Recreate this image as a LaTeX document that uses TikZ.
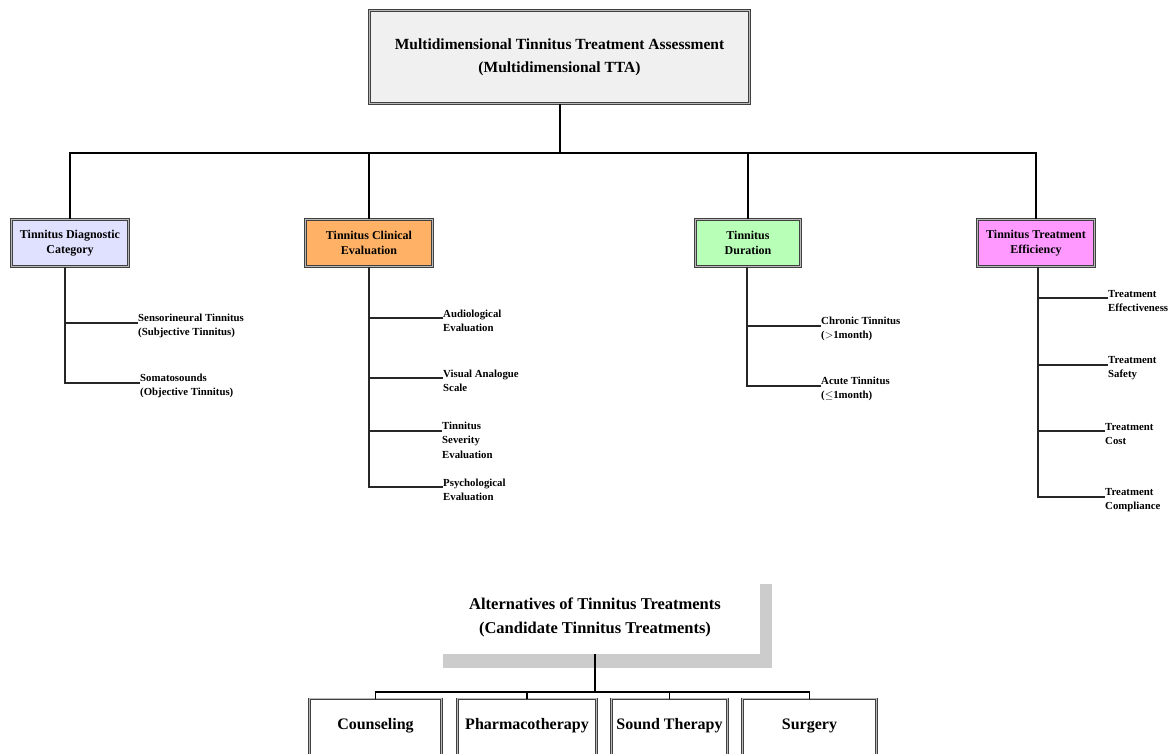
\documentclass[tikz,border=0pt]{standalone}
\usepackage{fontspec}
\setmainfont{Liberation Serif}
\usetikzlibrary{positioning}
\definecolor{topcol}{HTML}{F0F0F0}
\definecolor{diagcol}{HTML}{E0E0FF}
\definecolor{clincol}{HTML}{FFB266}
\definecolor{durcol}{HTML}{B8FFB8}
\definecolor{effcol}{HTML}{FF99FF}

\begin{document}
\begin{tikzpicture}[
	x=1pt, y=-1pt,
	dbox/.style={draw=black!75, double=gray!55, double distance=1.2pt, line width=0.7pt, align=center, inner sep=2pt},
	catbox/.style={dbox, minimum height=47pt, font=\bfseries\fontsize{12}{15.5}\selectfont},
	leaf/.style={anchor=west, inner sep=0pt, align=left, font=\bfseries\fontsize{10.8}{14.5}\selectfont},
	altbox/.style={dbox, fill=white, anchor=north, inner sep=0pt, text height=31pt, text depth=40pt, font=\bfseries\fontsize{16}{18}\selectfont},
	trunk/.style={draw, line width=1.4pt},
	twig/.style={draw=black!85, line width=1.1pt}
	]
	\useasboundingbox (0,0) rectangle (1171,753);
	\clip (0,0) rectangle (1171,753);

	% La racine
	\node[dbox, fill=topcol, minimum width=380pt, minimum height=93pt, font=\bfseries\fontsize{15.5}{23}\selectfont] (top) at (559.5,57) {Multidimensional Tinnitus Treatment Assessment\\(Multidimensional TTA)};

	% Les criteres
	\node[catbox, fill=diagcol, minimum width=117pt] (diag) at (70,243) {Tinnitus Diagnostic\\Category};
	\node[catbox, fill=clincol, minimum width=127pt] (clin) at (369,243) {Tinnitus Clinical\\Evaluation};
	\node[catbox, fill=durcol, minimum width=105pt] (dur) at (748,243) {Tinnitus\\Duration};
	\node[catbox, fill=effcol, minimum width=117pt] (eff) at (1036,243) {Tinnitus Treatment\\Efficiency};

	\coordinate (hub) at (560,153);
	\draw[trunk] (hub) -- (hub |- top.south);
	\draw[trunk] (diag.north) |- (hub);
	\draw[trunk] (clin.north) |- (hub);
	\draw[trunk] (dur.north) |- (hub);
	\draw[trunk] (eff.north) |- (hub);

	% Les sous-criteres
	\node[leaf] (diag1) at (138,326) {Sensorineural Tinnitus\\(Subjective Tinnitus)};
	\node[leaf] (diag2) at (140,386) {Somatosounds\\(Objective Tinnitus)};
	\node[leaf] (clin1) at (443,321) {Audiological\\Evaluation};
	\node[leaf] (clin2) at (443,381) {Visual Analogue\\Scale};
	\node[leaf] (clin3) at (442,440) {Tinnitus\\Severity\\Evaluation};
	\node[leaf] (clin4) at (443,490) {Psychological\\Evaluation};
	\node[leaf] (dur1) at (821,329) {Chronic Tinnitus\\($>$1month)};
	\node[leaf] (dur2) at (821,389) {Acute Tinnitus\\($\leq$1month)};
	\node[leaf] (eff1) at (1108,301) {Treatment\\Effectiveness};
	\node[leaf] (eff2) at (1108,368) {Treatment\\Safety};
	\node[leaf] (eff3) at (1105,434) {Treatment\\Cost};
	\node[leaf] (eff4) at (1105,500) {Treatment\\Compliance};

	% Les points d'attache
	\coordinate (sd) at ([xshift=-5pt]diag.south);
	\coordinate (su) at ([xshift=-1pt]dur.south);
	\coordinate (se) at ([xshift=2pt]eff.south);
	\coordinate (d1) at ([yshift=3pt]diag1.west);
	\coordinate (d2) at ([yshift=3pt]diag2.west);
	\coordinate (c1) at ([yshift=3pt]clin1.west);
	\coordinate (c2) at ([yshift=3pt]clin2.west);
	\coordinate (c3) at ([yshift=9pt]clin3.west);
	\coordinate (c4) at ([yshift=3pt]clin4.west);
	\coordinate (u1) at ([yshift=3pt]dur1.west);
	\coordinate (u2) at ([yshift=3pt]dur2.west);
	\coordinate (e1) at ([yshift=3pt]eff1.west);
	\coordinate (e2) at ([yshift=3pt]eff2.west);
	\coordinate (e3) at ([yshift=3pt]eff3.west);
	\coordinate (e4) at ([yshift=3pt]eff4.west);

	\draw[twig] (sd) |- (d2);
	\draw[twig] (sd |- d1) -- (d1);
	\draw[twig] (clin.south) |- (c4);
	\draw[twig] (clin.south |- c1) -- (c1);
	\draw[twig] (clin.south |- c2) -- (c2);
	\draw[twig] (clin.south |- c3) -- (c3);
	\draw[twig] (su) |- (u2);
	\draw[twig] (su |- u1) -- (u1);
	\draw[twig] (se) |- (e4);
	\draw[twig] (se |- e1) -- (e1);
	\draw[twig] (se |- e2) -- (e2);
	\draw[twig] (se |- e3) -- (e3);

	% Les alternatives
	\fill[gray!40] (443,584) rectangle (772,668);
	\node[fill=white, minimum width=330pt, minimum height=74pt, align=center, font=\bfseries\fontsize{16.5}{24}\selectfont] (alt) at (595,617) {Alternatives of Tinnitus Treatments\\(Candidate Tinnitus Treatments)};

	\node[altbox, minimum width=132pt] (cons) at (375.5,698.5) {Counseling};
	\node[altbox, minimum width=139pt] (pharm) at (527,698.5) {Pharmacotherapy};
	\node[altbox, minimum width=116pt] (sound) at (669.5,698.5) {Sound Therapy};
	\node[altbox, minimum width=134pt] (surg) at (809.5,698.5) {Surgery};

	\coordinate (althub) at (595,692);
	\draw[trunk] (alt.south) -- (althub);
	\draw[trunk] (cons.north) |- (althub);
	\draw[trunk] (pharm.north) |- (althub);
	\draw[trunk] (sound.north) |- (althub);
	\draw[trunk] (surg.north) |- (althub);
\end{tikzpicture}
\end{document}
